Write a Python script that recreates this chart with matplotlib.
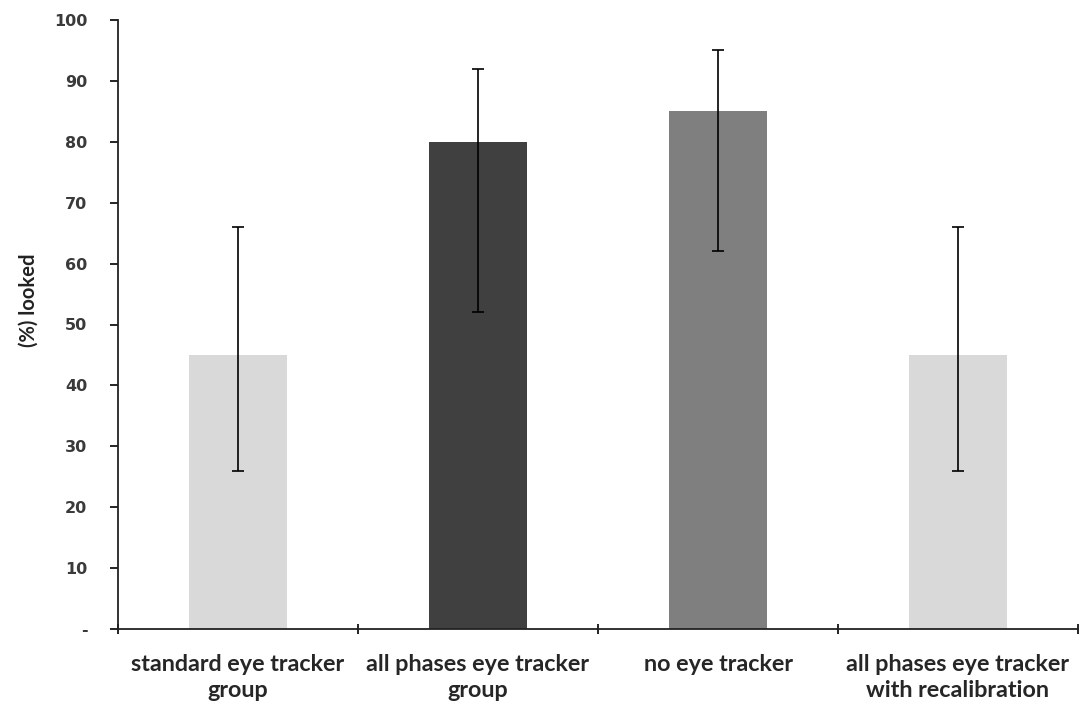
import matplotlib
matplotlib.use("Agg")
import matplotlib.pyplot as plt
import numpy as np

categories = ["standard eye tracker\ngroup", "all phases eye tracker\ngroup",
              "no eye tracker", "all phases eye tracker\nwith recalibration"]
values = [45, 80, 85, 45]
err_low = [26, 52, 62, 26]
err_high = [66, 92, 95, 66]
colors = ["#d9d9d9", "#404040", "#7f7f7f", "#d9d9d9"]
yticks = [0, 10, 20, 30, 40, 50, 60, 70, 80, 90, 100]
ytick_labels = ["-", "10", "20", "30", "40", "50", "60", "70", "80", "90", "100"]

fig = plt.figure(figsize=(10.82, 7.12), dpi=100)
ax = fig.add_axes([118/1082, 1-629/712, (1078-118)/1082, (629-20)/712])

x = np.arange(len(categories))
v = np.array(values)
lower = v - np.array(err_low)
upper = np.array(err_high) - v
ax.bar(x, v, width=0.41, color=colors, zorder=2)
ax.errorbar(x, v, yerr=[lower, upper], fmt="none", ecolor="black",
            elinewidth=1.2, capsize=4, capthick=1.2, zorder=3)

ax.set_xlim(-0.5, len(categories) - 0.5)
ax.set_ylim(0, 100)
ax.set_yticks(yticks)
ax.set_yticklabels(ytick_labels, fontfamily="DejaVu Sans", fontweight="bold",
                   fontsize=11.5, color="#3a3a3a")
ax.set_xticks(x)
ax.set_xticklabels(categories, fontfamily="Lato", fontweight="bold", fontsize=16.8,
                   color="#262626", linespacing=1.3)
ax.tick_params(axis="x", length=0, pad=18)
ax.set_xticks(np.arange(-0.5, len(categories)), minor=True)
ax.tick_params(axis="x", which="minor", length=7, direction="inout", width=1.2)
ax.tick_params(axis="y", length=6, width=1.2, direction="out", pad=16)

for s in ["top", "right"]:
    ax.spines[s].set_visible(False)
for s in ["left", "bottom"]:
    ax.spines[s].set_linewidth(1.3)
    ax.spines[s].set_color("#222222")

ax.set_ylabel("(%) looked", fontfamily="Lato", fontweight="bold", fontsize=14.5,
              color="#222222")
ax.yaxis.set_label_coords(-(118 - 39) / 960, (629 - 300) / 609)

fig.savefig("out.png", dpi=100)
